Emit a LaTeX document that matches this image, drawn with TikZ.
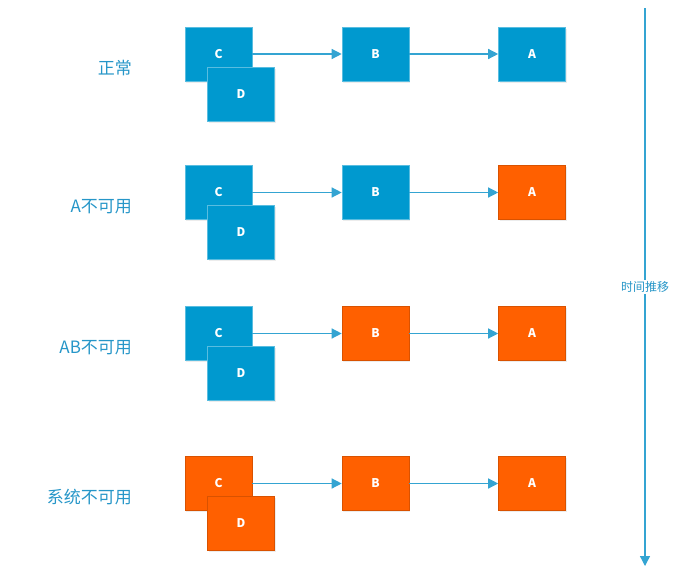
\documentclass[tikz,border=0pt]{standalone}
\usepackage{fontspec}
\setmainfont{Noto Sans CJK SC}
\usetikzlibrary{arrows.meta,shadows}
\definecolor{okblue}{RGB}{0,153,207}
\definecolor{badorange}{RGB}{255,96,0}
\definecolor{linkblue}{RGB}{52,164,210}
\definecolor{labelblue}{RGB}{38,150,200}
\tikzset{
  svc/.style={line width=0.6pt, minimum width=67pt, minimum height=54pt, inner sep=0pt,
    text=white, font=\fontsize{12}{12}\selectfont\bfseries,
    drop shadow={opacity=0.15,shadow xshift=1pt,shadow yshift=-1.5pt}},
  upbox/.style={svc, fill=okblue, draw=okblue!65!white},
  downbox/.style={svc, fill=badorange, draw=badorange!85!black},
  link/.style={draw=linkblue, line width=1.3pt, -{Triangle[length=10pt,width=10pt]}},
  rowlabel/.style={anchor=east, text=labelblue, font=\fontsize{17}{17}\selectfont},
}
\newcommand{\svcrow}[6]{% name, y of C/B/A, label, styles of C+D, B, A
  \node[#4] (C#1) at (218.5,#2) {C};
  \node[#4] (D#1) at (241,#2+40) {D};
  \node[#5] (B#1) at (375.5,#2) {B};
  \node[#6] (A#1) at (532,#2) {A};
  \draw[link] (C#1) -- (B#1);
  \draw[link] (B#1) -- (A#1);
  \node[rowlabel] (L#1) at (135.5,#2+14) {#3};
}

\begin{document}
\begin{tikzpicture}[x=1pt,y=-1pt]
  \useasboundingbox (0,0) rectangle (685,573);
  \svcrow{1}{54}{正常}{upbox}{upbox}{upbox}
  \svcrow{2}{192.5}{A不可用}{upbox}{upbox}{downbox}
  \svcrow{3}{333.5}{AB不可用}{upbox}{downbox}{downbox}
  \svcrow{4}{483.5}{系统不可用}{downbox}{downbox}{downbox}
  % time line
  \coordinate (tstart) at (645,8);
  \coordinate (tend) at (645,566);
  \draw[link] (tstart) -- node[fill=white, inner sep=1pt, text=labelblue,
    font=\fontsize{12}{12}\selectfont] (tlabel) {时间推移} (tend);
\end{tikzpicture}
\end{document}
